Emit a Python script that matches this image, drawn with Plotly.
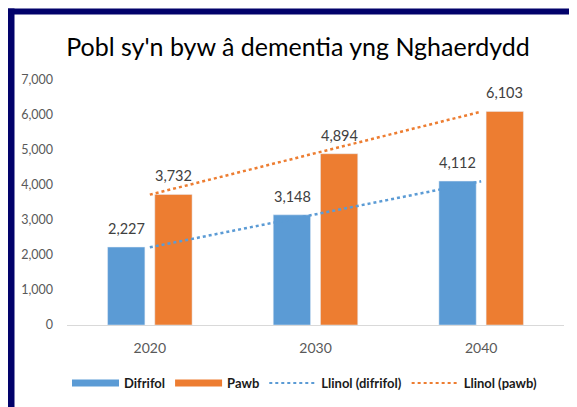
import numpy as np
import plotly.graph_objects as go

years = ["2020", "2030", "2040"]
difrifol = [2227, 3148, 4112]
pawb = [3732, 4894, 6103]
y_ticks = [0, 1000, 2000, 3000, 4000, 5000, 6000, 7000]

title_text = "Pobl sy'n byw â dementia yng Nghaerdydd"
name_difrifol = "Difrifol"
name_pawb = "Pawb"
name_trend_difrifol = "Llinol (difrifol)"
name_trend_pawb = "Llinol (pawb)"

BLUE = "#5B9BD5"
ORANGE = "#ED7D31"
NAVY = "#02026B"
FONT = "Lato, 'Open Sans', sans-serif"

# page has an 8px body margin; work in reference-image pixels and convert
OFF = 8
W, H = 577 - OFF, 407 - OFF
ML, MR, MT, MB = 67 - OFF, 13, 80 - OFF, 82
PW, PH = W - ML - MR, H - MT - MB


def px_x(p):
    return (p - OFF - ML) / PW


def px_y(p):
    return (H - MB - (p - OFF)) / PH


def trend(vals):
    idx = np.arange(1, len(vals) + 1)
    slope, icpt = np.polyfit(idx, vals, 1)
    return list(slope * idx + icpt)


fig = go.Figure()
fig.add_trace(go.Bar(x=years, y=difrifol, name=name_difrifol, marker_color=BLUE,
                     showlegend=False))
fig.add_trace(go.Bar(x=years, y=pawb, name=name_pawb, marker_color=ORANGE,
                     showlegend=False))
fig.add_trace(go.Scatter(x=years, y=trend(difrifol), mode="lines",
                         line=dict(color=BLUE, width=2.5, dash="dot"),
                         showlegend=False, hoverinfo="skip"))
fig.add_trace(go.Scatter(x=years, y=trend(pawb), mode="lines",
                         line=dict(color=ORANGE, width=2.5, dash="dot"),
                         showlegend=False, hoverinfo="skip"))

# legend entries
fig.add_trace(go.Scatter(x=[None], y=[None], mode="lines", name=name_difrifol,
                         line=dict(color=BLUE, width=7)))
fig.add_trace(go.Scatter(x=[None], y=[None], mode="lines", name=name_pawb,
                         line=dict(color=ORANGE, width=7)))
fig.add_trace(go.Scatter(x=[None], y=[None], mode="lines", name=name_trend_difrifol,
                         line=dict(color=BLUE, width=2, dash="dot")))
fig.add_trace(go.Scatter(x=[None], y=[None], mode="lines", name=name_trend_pawb,
                         line=dict(color=ORANGE, width=2, dash="dot")))

annotations = []
for vals, shift in ((difrifol, -23.5), (pawb, 23.5)):
    for i, v in enumerate(vals):
        annotations.append(dict(x=i, y=v, xref="x", yref="y", text=f"{v:,}",
                                showarrow=False, xshift=shift, yshift=8,
                                yanchor="bottom",
                                font=dict(family=FONT, size=14.5, color="#404040")))

shapes = [
    dict(type="rect", xref="paper", yref="paper", x0=px_x(0), x1=px_x(600),
         y0=px_y(14.5), y1=px_y(8.6), fillcolor=NAVY, line=dict(width=0), layer="above"),
    dict(type="rect", xref="paper", yref="paper", x0=px_x(7.6), x1=px_x(14.5),
         y0=px_y(430), y1=px_y(8.6), fillcolor=NAVY, line=dict(width=0), layer="above"),
]

fig.update_layout(
    width=W, height=H,
    margin=dict(l=ML, r=MR, t=MT, b=MB, autoexpand=False),
    paper_bgcolor="white", plot_bgcolor="white",
    barmode="group", bargap=0.43, bargroupgap=0.21,
    title=dict(text=title_text, x=px_x(298), xref="paper", xanchor="center",
               y=1 - (47 - OFF) / H, yanchor="middle",
               font=dict(family=FONT, size=25, color="#000000")),
    xaxis=dict(type="category", range=[-0.5, 2.5], showline=True, linecolor="#D9D9D9",
               linewidth=1, ticks="", showgrid=False, zeroline=False,
               tickfont=dict(family=FONT, size=14, color="#595959"),
               ticklabelstandoff=10, automargin=False),
    yaxis=dict(range=[0, 7000], tickvals=y_ticks, tickformat=",", showgrid=False,
               zeroline=False, showline=False, ticks="",
               tickfont=dict(family=FONT, size=12.5, color="#595959"),
               ticklabelstandoff=13, automargin=False),
    legend=dict(orientation="h", x=px_x(67), xanchor="left", y=px_y(383),
                yanchor="middle", font=dict(family=FONT, size=13, color="#1a1a1a",
                                            weight="bold"),
                itemwidth=47, tracegroupgap=0, bgcolor="rgba(0,0,0,0)"),
    annotations=annotations,
    shapes=shapes,
)

fig.write_html("out.html")
